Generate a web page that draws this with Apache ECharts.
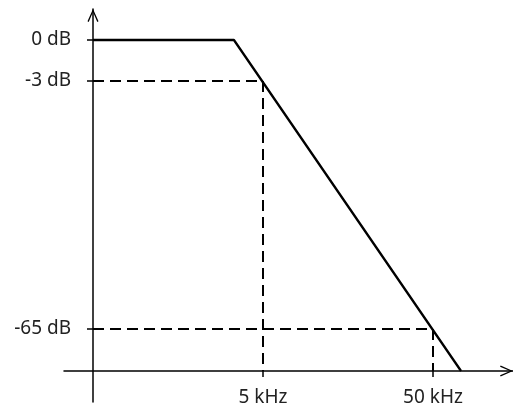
<!DOCTYPE html>
<html>
<head>
<meta charset="utf-8">
<script src="https://cdn.jsdelivr.net/npm/echarts@6/dist/echarts.min.js"></script>
<style>
  html, body { margin: 0; padding: 0; background: #fff; }
  #chart { width: 513px; height: 410px; }
</style>
</head>
<body>
<div id="chart"></div>
<script>
// Schematic low-pass response.
// x: decades above 0.5 kHz (log-frequency), y: schematic level (0 dB = 100)
const freqLabels = ['5 kHz', '50 kHz'];
const freqPos = [1, 2];
const levelLabels = ['0 dB', '-3 dB', '-65 dB'];
const levelPos = [100, 87.6, 12.7];
const responseX = [0, 0.829, 2.165];
const responseY = [100, 100, 0];
const cutoff3X = [0, 1, 1];
const cutoff3Y = [87.6, 87.6, 0];
const stop65X = [0, 2, 2];
const stop65Y = [12.7, 12.7, 0];

const zip = (xs, ys) => xs.map((x, i) => [x, ys[i]]);

const chevron = 'path://M5.5,0 L11,12.3 L9.8,12.9 L5.5,2.9 L1.2,12.9 L0,12.3 Z';
const FONT = '"Noto Sans", "Open Sans", sans-serif';

const chart = echarts.init(document.getElementById('chart'), null, { renderer: 'canvas' });
chart.setOption({
  animation: false,
  backgroundColor: '#fff',
  grid: { left: 64, right: 0, top: 9, bottom: 8, containLabel: false, outerBoundsMode: 'none' },
  xAxis: {
    type: 'value',
    min: -29 / 170,
    max: 420 / 170,
    axisLine: {
      onZero: true,
      lineStyle: { color: '#000', width: 1.5 },
      symbol: ['none', chevron],
      symbolSize: [11, 13],
      symbolOffset: [0, -6.5]
    },
    axisTick: { show: true, customValues: freqPos, length: 6, lineStyle: { color: '#000', width: 1.5 } },
    axisLabel: {
      customValues: freqPos,
      formatter: v => freqLabels[freqPos.indexOf(v)] || '',
      color: '#222', fontSize: 19, fontFamily: FONT, margin: -14
    },
    splitLine: { show: false }
  },
  yAxis: {
    type: 'value',
    min: (371 - 402) / 3.31,
    max: (371 - 9) / 3.31,
    axisLine: {
      onZero: true,
      lineStyle: { color: '#000', width: 1.5 },
      symbol: ['none', chevron],
      symbolSize: [11, 13],
      symbolOffset: [0, -6.5]
    },
    axisTick: { show: true, customValues: levelPos, length: 6, lineStyle: { color: '#000', width: 1.5 } },
    axisLabel: {
      customValues: levelPos,
      formatter: v => levelLabels[levelPos.indexOf(v)] || '',
      color: '#222', fontSize: 19, fontFamily: FONT, margin: -7
    },
    splitLine: { show: false }
  },
  series: [
    {
      type: 'line', data: zip(cutoff3X, cutoff3Y), symbol: 'none', silent: true,
      lineStyle: { color: '#000', width: 2, type: [11, 6] }
    },
    {
      type: 'line', data: zip(stop65X, stop65Y), symbol: 'none', silent: true,
      lineStyle: { color: '#000', width: 2, type: [11, 6] }
    },
    {
      type: 'line', data: zip(responseX, responseY), symbol: 'none', silent: true,
      lineStyle: { color: '#000', width: 2.3 }
    }
  ]
});
</script>
</body>
</html>
